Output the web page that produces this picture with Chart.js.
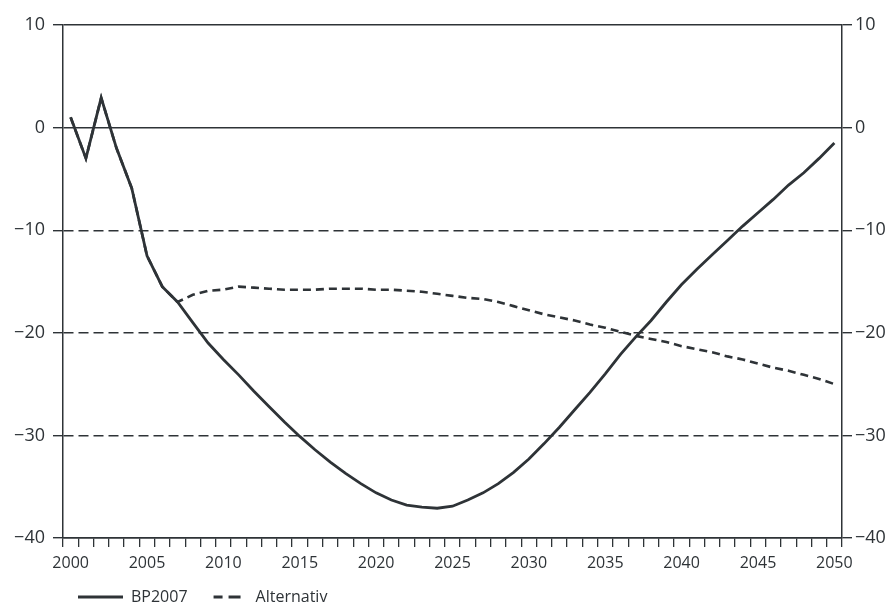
<!DOCTYPE html>
<html>
<head>
<meta charset="utf-8">
<script src="https://cdn.jsdelivr.net/npm/chart.js@4.4.1/dist/chart.umd.min.js"></script>
<style>
  html, body { margin: 0; padding: 0; background: #fff; }
  #wrap { width: 893px; height: 604px; }
</style>
</head>
<body>
<div id="wrap"><canvas id="balanceChart" width="893" height="604"></canvas></div>
<script>
var years = [
  2000, 2001, 2002, 2003, 2004, 2005, 2006, 2007, 2008, 2009,
  2010, 2011, 2012, 2013, 2014, 2015, 2016, 2017, 2018, 2019,
  2020, 2021, 2022, 2023, 2024, 2025, 2026, 2027, 2028, 2029,
  2030, 2031, 2032, 2033, 2034, 2035, 2036, 2037, 2038, 2039,
  2040, 2041, 2042, 2043, 2044, 2045, 2046, 2047, 2048, 2049, 2050
];
var bp2007 = [
  1.0, -3.0, 2.9, -2.0, -5.9, -12.5, -15.5, -17.0, -19.0, -21.0,
  -22.6, -24.1, -25.7, -27.2, -28.7, -30.1, -31.4, -32.6, -33.7, -34.7,
  -35.6, -36.3, -36.8, -37.0, -37.1, -36.9, -36.3, -35.6, -34.7, -33.6,
  -32.3, -30.8, -29.2, -27.5, -25.8, -24.0, -22.1, -20.4, -18.8, -17.0,
  -15.3, -13.8, -12.4, -11.0, -9.6, -8.3, -7.0, -5.6, -4.4, -3.0, -1.5
];
var alternativ = [
  1.0, -3.0, 2.9, -2.0, -5.9, -12.5, -15.5, -17.0, -16.3, -15.9,
  -15.8, -15.5, -15.6, -15.7, -15.8, -15.8, -15.8, -15.7, -15.7, -15.7,
  -15.8, -15.8, -15.9, -16.0, -16.2, -16.4, -16.6, -16.7, -17.0, -17.4,
  -17.8, -18.2, -18.5, -18.8, -19.2, -19.5, -19.9, -20.3, -20.6, -20.9,
  -21.3, -21.6, -21.9, -22.3, -22.6, -23.0, -23.4, -23.7, -24.1, -24.5, -25.0
];
var yTicks = [10, 0, -10, -20, -30, -40];

var ink = "#2e3337";
Chart.defaults.font.family = "'Open Sans', sans-serif";
Chart.defaults.color = ink;

function fmtTick(value) {
  if (yTicks.indexOf(value) < 0) return "";
  return value < 0 ? "\u2212" + Math.abs(value) : String(value);
}

// dashed grid only for the inner lines, solid for 0 and the frame
function gridDash(c) {
  if (c.tick && c.tick.value !== 0 && c.tick.value !== 10 && c.tick.value !== -40) {
    return [10, 5];
  }
  return [];
}

// legend samples: thick line, short "– –" for the alternative
function legendLabels(chart) {
  var items = Chart.defaults.plugins.legend.labels.generateLabels(chart);
  items.forEach(function (item) {
    item.lineWidth = 2.8;
    item.strokeStyle = ink;
    if (item.datasetIndex === 1) {
      item.lineDash = [9, 6, 12, 24];
      item.lineDashOffset = 40;
    } else {
      item.lineDash = [];
    }
  });
  return items;
}

var ctx = document.getElementById("balanceChart").getContext("2d");
var balanceChart = new Chart(ctx, {
  type: "line",
  data: {
    labels: years,
    datasets: [
      {
        label: "BP2007",
        data: bp2007,
        borderColor: ink,
        backgroundColor: ink,
        borderWidth: 2.8,
        pointRadius: 0,
        tension: 0,
        fill: false,
      },
      {
        label: "Alternativ",
        data: alternativ,
        borderColor: ink,
        backgroundColor: ink,
        borderWidth: 2.6,
        borderDash: [8, 5],
        pointRadius: 0,
        tension: 0,
        fill: false,
      },
    ],
  },
  options: {
    responsive: false,
    animation: false,
    layout: { padding: { top: 25, right: 0, bottom: -11, left: 0 } },
    plugins: {
      legend: {
        position: "bottom",
        align: "start",
        fullSize: false,
        labels: {
          usePointStyle: true,
          pointStyle: "line",
          pointStyleWidth: 45,
          padding: 15,
          color: ink,
          font: { size: 16 },
          generateLabels: legendLabels,
        },
      },
      tooltip: { enabled: false },
    },
    scales: {
      x: {
        type: "category",
        offset: true,
        grid: { offset: true, drawOnChartArea: false, tickLength: 9, color: ink, lineWidth: 1.3 },
        border: { display: true, color: ink, width: 1.5 },
        ticks: {
          autoSkip: false,
          maxRotation: 0,
          padding: 7,
          font: { size: 16 },
          callback: function (v, i) {
            return years[i] % 5 === 0 ? String(years[i]) : "";
          },
        },
        afterFit: function (s) { s.height = 36; },
      },
      y: {
        position: "left",
        min: -40,
        max: 10,
        ticks: { stepSize: 10, padding: 8, font: { size: 18 }, callback: fmtTick },
        grid: { color: ink, lineWidth: 1.4, tickLength: 10 },
        border: { display: true, color: ink, width: 1.5, dash: gridDash },
        afterFit: function (s) { s.width = 63; },
      },
      y2: {
        position: "right",
        min: -40,
        max: 10,
        ticks: { stepSize: 10, padding: 3, font: { size: 18 }, callback: fmtTick },
        grid: { drawOnChartArea: false, color: ink, lineWidth: 1.4, tickLength: 10 },
        border: { display: true, color: ink, width: 1.5 },
        afterFit: function (s) { s.width = 51; },
      },
    },
  },
});
</script>
</body>
</html>
